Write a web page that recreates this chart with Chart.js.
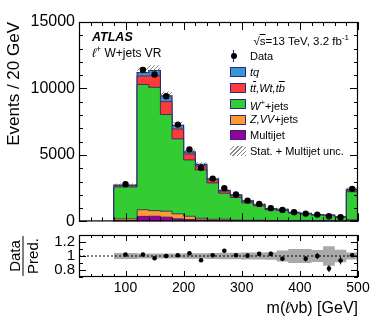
<!DOCTYPE html>
<html>
<head>
<meta charset="utf-8">
<script src="https://cdn.jsdelivr.net/npm/chart.js@4.4.1/dist/chart.umd.min.js"></script>
<style>
body { margin: 0; background: #fff; }
#wrap { position: relative; width: 378px; height: 319px; font-family: 'Liberation Sans', Arial, sans-serif; color: #000; overflow: hidden; }
canvas { position: absolute; left: 0; }
#main { top: 0; }
#ratio { top: 222px; }
.t { position: absolute; white-space: nowrap; line-height: 1; }
.box { position: absolute; left: 230px; width: 16px; height: 10px; box-sizing: border-box; border: 1px solid #2a2a80; }
.lg { left: 250px; font-size: 11px; }
.ov { text-decoration: overline; }
</style>
</head>
<body>
<div id="wrap">
  <canvas id="main" width="378" height="235"></canvas>
  <canvas id="ratio" width="378" height="97"></canvas>

  <div class="t" style="left:5px;top:222px;width:200px;text-align:right;font-size:17px;transform:rotate(-90deg);transform-origin:left top;">Events / 20 GeV</div>
  <div class="t" style="left:92px;top:31px;font-size:12.5px;font-weight:bold;font-style:italic;">ATLAS</div>
  <div class="t" style="left:92px;top:45px;font-size:12px;"><i>ℓ</i><sup style="font-size:9px">+</sup> W+jets VR</div>
  <div class="t" style="right:29px;top:34px;font-size:11.5px;">√<span class="ov">s</span>=13 TeV, 3.2 fb<sup style="font-size:8px">-1</sup></div>

  <div style="position:absolute;left:233px;top:50px;width:1px;height:12px;background:#1a1a70;"></div>
  <div style="position:absolute;left:230.5px;top:53px;width:6px;height:6px;border-radius:3px;background:#000;"></div>
  <div class="t lg" style="top:50.5px;">Data</div>

  <div class="box" style="top:67px;background:#3a95d5;"></div>
  <div class="t lg" style="top:66.5px;"><i>tq</i></div>
  <div class="box" style="top:83px;background:#ff3a3a;"></div>
  <div class="t lg" style="top:82.5px;"><i>t<span class="ov">t</span>,Wt,t<span class="ov">b</span></i></div>
  <div class="box" style="top:99px;background:#33cc33;"></div>
  <div class="t lg" style="top:98.5px;"><i>W</i><sup style="font-size:8px">+</sup>+jets</div>
  <div class="box" style="top:114.5px;background:#ff9933;"></div>
  <div class="t lg" style="top:114px;"><i>Z,VV</i>+jets</div>
  <div class="box" style="top:130px;background:#990099;"></div>
  <div class="t lg" style="top:129.5px;">Multijet</div>
  <div style="position:absolute;left:230px;top:146px;width:16px;height:10px;background:repeating-linear-gradient(-45deg,#888 0 1px,transparent 1px 3px);"></div>
  <div class="t lg" style="top:145.5px;">Stat. + Multijet unc.</div>

  <div class="t" style="left:23px;top:256px;transform:translate(-50%,-50%) rotate(-90deg);font-size:15px;text-align:center;">
    <div style="padding:0 3px 1px;">Data</div>
    <div style="border-top:1px solid #000;padding:1px 2px 0;">Pred.</div>
  </div>
  <div class="t" style="right:20px;top:300px;font-size:16px;">m(<i>ℓ</i>νb) [GeV]</div>
</div>

<script>
// bins: first one is 80-120, the rest are 20 GeV wide
const binEdges = [80, 120, 140, 160, 180, 200, 220, 240, 260, 280, 300, 320, 340, 360, 380, 400, 420, 440, 460, 480, 500];
const binCenters = [100, 130, 150, 170, 190, 210, 230, 250, 270, 290, 310, 330, 350, 370, 390, 410, 430, 450, 470, 490];

// predicted events per bin (stack, bottom to top)
const multijet = [60, 380, 390, 320, 190, 140, 110, 70, 60, 40, 30, 50, 20, 20, 15, 15, 10, 30, 10, 60];
const zvvJets  = [130, 500, 420, 450, 375, 250, 130, 90, 110, 60, 60, 40, 30, 25, 20, 15, 15, 10, 10, 60];
const wJets    = [2400, 9420, 9280, 7275, 5640, 4235, 3630, 2735, 1950, 1700, 1300, 1070, 820, 770, 590, 525, 440, 395, 290, 2110];
const ttbar    = [90, 640, 870, 965, 750, 450, 305, 225, 160, 150, 120, 90, 70, 65, 50, 40, 35, 25, 20, 130];
const tq       = [50, 260, 390, 430, 265, 150, 110, 75, 60, 50, 40, 30, 25, 20, 15, 15, 10, 10, 10, 60];

const dataCounts = [2790, 11400, 11050, 9420, 7280, 5420, 4030, 3220, 2500, 2020, 1565, 1315, 995, 865, 695, 587, 510, 390, 316, 2450];

// lower panel
const ratioValues = [1.02, 1.02, 0.967, 1.0, 1.01, 1.04, 0.94, 1.01, 1.075, 1.01, 1.005, 1.03, 1.03, 0.96, null, 0.96, 1.0, 0.82, 0.935, 1.01];
const ratioErrors = [0.012, 0.01, 0.01, 0.011, 0.012, 0.014, 0.016, 0.018, 0.02, 0.022, 0.025, 0.028, 0.032, 0.033, 0.038, 0.04, 0.044, 0.05, 0.055, 0.02];
const relUnc      = [0.042, 0.035, 0.035, 0.035, 0.037, 0.038, 0.04, 0.042, 0.045, 0.045, 0.05, 0.05, 0.055, 0.08, 0.1, 0.1, 0.085, 0.14, 0.09, 0.05];

const yTicksMain = [0, 5000, 10000, 15000];
const xTicks = [100, 200, 300, 400, 500];
const ratioTicks = [0.8, 1, 1.2];
const ratioTickLabels = ['0.8', '1', '1.2'];

const FONT = "'Liberation Sans', Arial, sans-serif";
const LINE = '#22226e';
const colors = ['#990099', '#ff9933', '#33cc33', '#ff3a3a', '#3a95d5'];

// cumulative stack
const components = [multijet, zvvJets, wJets, ttbar, tq];
const cumulative = [];
let running = binCenters.map(() => 0);
components.forEach(c => {
    running = running.map((v, i) => v + c[i]);
    cumulative.push(running);
});
const total = cumulative[cumulative.length - 1];

function steps(vals, fromZero) {
    const pts = fromZero ? [{ x: binEdges[0], y: 0 }] : [];
    binEdges.forEach((e, i) => pts.push({ x: e, y: vals[Math.min(i, vals.length - 1)] }));
    return pts;
}

function hatchPattern() {
    const c = document.createElement('canvas');
    c.width = 4; c.height = 4;
    const g = c.getContext('2d');
    g.strokeStyle = '#666';
    g.lineWidth = 0.8;
    g.beginPath();
    g.moveTo(0, 4); g.lineTo(4, 0);
    g.moveTo(-1, 1); g.lineTo(1, -1);
    g.moveTo(3, 5); g.lineTo(5, 3);
    g.stroke();
    return g.createPattern(c, 'repeat');
}

function range(a, b, step) {
    const out = [];
    for (let v = a; v <= b + 1e-9; v += step) out.push(+v.toFixed(4));
    return out;
}

// frame + inward ticks on all four sides, ROOT style
const frameTicks = {
    id: 'frameTicks',
    afterDatasetsDraw(chart, args, o) {
        const { ctx, chartArea: a, scales: { x, y } } = chart;
        ctx.save();
        ctx.strokeStyle = '#000';
        ctx.lineWidth = 1;
        const seg = (x1, y1, x2, y2) => { ctx.beginPath(); ctx.moveTo(x1, y1); ctx.lineTo(x2, y2); ctx.stroke(); };
        o.xMinor.forEach(v => {
            const px = Math.round(x.getPixelForValue(v)) + 0.5;
            const len = o.xMajor.includes(v) ? o.majorX : o.minorX;
            seg(px, a.bottom, px, a.bottom - len);
            seg(px, a.top, px, a.top + len);
        });
        o.yMinor.forEach(v => {
            const py = Math.round(y.getPixelForValue(v)) + 0.5;
            const len = o.yMajor.includes(v) ? o.majorY : o.minorY;
            seg(a.left, py, a.left + len, py);
            seg(a.right, py, a.right - len, py);
        });
        if (o.errors) {
            o.values.forEach((v, i) => {
                if (v === null) return;
                const px = x.getPixelForValue(binCenters[i]);
                seg(px, y.getPixelForValue(v - o.errors[i]), px, y.getPixelForValue(v + o.errors[i]));
            });
        }
        ctx.lineWidth = 1.2;
        ctx.strokeRect(a.left + 0.5, a.top + 0.5, a.right - a.left - 1, a.bottom - a.top - 1);
        ctx.restore();
    }
};

const stackSets = cumulative.map((cum, k) => ({
    data: steps(cum, true),
    stepped: true,
    fill: 'origin',
    backgroundColor: colors[k],
    borderColor: LINE,
    borderWidth: k === cumulative.length - 1 ? 1.2 : 0.8,
    pointRadius: 0
})).reverse();

new Chart(document.getElementById('main'), {
    type: 'line',
    data: {
        datasets: [
            {
                data: binCenters.map((c, i) => ({ x: c, y: dataCounts[i] })),
                showLine: false,
                pointRadius: 3.2,
                pointBackgroundColor: '#000',
                pointBorderWidth: 0
            },
            {
                data: steps(total.map((t, i) => t * (1 + relUnc[i])), false),
                stepped: true,
                fill: '+1',
                backgroundColor: hatchPattern(),
                borderWidth: 0,
                pointRadius: 0
            },
            {
                data: steps(total.map((t, i) => t * (1 - relUnc[i])), false),
                stepped: true,
                fill: false,
                borderWidth: 0,
                pointRadius: 0
            },
            ...stackSets.slice().reverse()
        ]
    },
    options: {
        responsive: false,
        animation: false,
        events: [],
        layout: { padding: { top: 22, right: 20, bottom: 12, left: 0 } },
        plugins: {
            legend: { display: false },
            tooltip: { enabled: false },
            frameTicks: {
                xMajor: xTicks, xMinor: range(20, 500, 20), majorX: 8, minorX: 4,
                yMajor: yTicksMain, yMinor: range(0, 15000, 1000), majorY: 8, minorY: 4
            }
        },
        scales: {
            x: { type: 'linear', min: 20, max: 500, display: false },
            y: {
                min: 0, max: 15000,
                afterFit: s => { s.width = 79; },
                afterBuildTicks: s => { s.ticks = yTicksMain.map(v => ({ value: v })); },
                grid: { display: false, drawTicks: false },
                border: { display: false },
                ticks: { padding: 4, color: '#000', font: { size: 16, family: FONT }, callback: v => String(v) }
            }
        }
    },
    plugins: [frameTicks]
});

new Chart(document.getElementById('ratio'), {
    type: 'line',
    data: {
        datasets: [
            {
                data: binCenters.map((c, i) => ({ x: c, y: ratioValues[i] })),
                showLine: false,
                pointRadius: 2.3,
                pointBackgroundColor: '#000',
                pointBorderWidth: 0
            },
            {
                data: [{ x: 20, y: 1 }, { x: 500, y: 1 }],
                borderColor: '#000',
                borderWidth: 1,
                borderDash: [2, 2],
                pointRadius: 0,
                fill: false
            },
            {
                data: steps(relUnc.map(u => 1 + u), false),
                stepped: true,
                fill: '+1',
                backgroundColor: '#a9a9a9',
                borderWidth: 0,
                pointRadius: 0
            },
            {
                data: steps(relUnc.map(u => 1 - u), false),
                stepped: true,
                fill: false,
                borderWidth: 0,
                pointRadius: 0
            }
        ]
    },
    options: {
        responsive: false,
        animation: false,
        events: [],
        layout: { padding: { top: 13, right: 20, bottom: 0, left: 0 } },
        plugins: {
            legend: { display: false },
            tooltip: { enabled: false },
            frameTicks: {
                xMajor: xTicks, xMinor: range(20, 500, 20), majorX: 6, minorX: 3,
                yMajor: ratioTicks, yMinor: range(0.7, 1.3, 0.1), majorY: 7, minorY: 4,
                values: ratioValues, errors: ratioErrors
            }
        },
        scales: {
            x: {
                type: 'linear', min: 20, max: 500,
                afterFit: s => { s.height = 42; },
                afterBuildTicks: s => { s.ticks = xTicks.map(v => ({ value: v })); },
                grid: { display: false, drawTicks: false },
                border: { display: false },
                ticks: { padding: 3, maxRotation: 0, color: '#000', font: { size: 14, family: FONT }, callback: v => String(v) }
            },
            y: {
                min: 0.7, max: 1.3,
                afterFit: s => { s.width = 79; },
                afterBuildTicks: s => { s.ticks = ratioTicks.map(v => ({ value: v })); },
                grid: { display: false, drawTicks: false },
                border: { display: false },
                ticks: { padding: 4, color: '#000', font: { size: 15, family: FONT }, callback: (v, i) => ratioTickLabels[i] }
            }
        }
    },
    plugins: [frameTicks]
});
</script>
</body>
</html>
